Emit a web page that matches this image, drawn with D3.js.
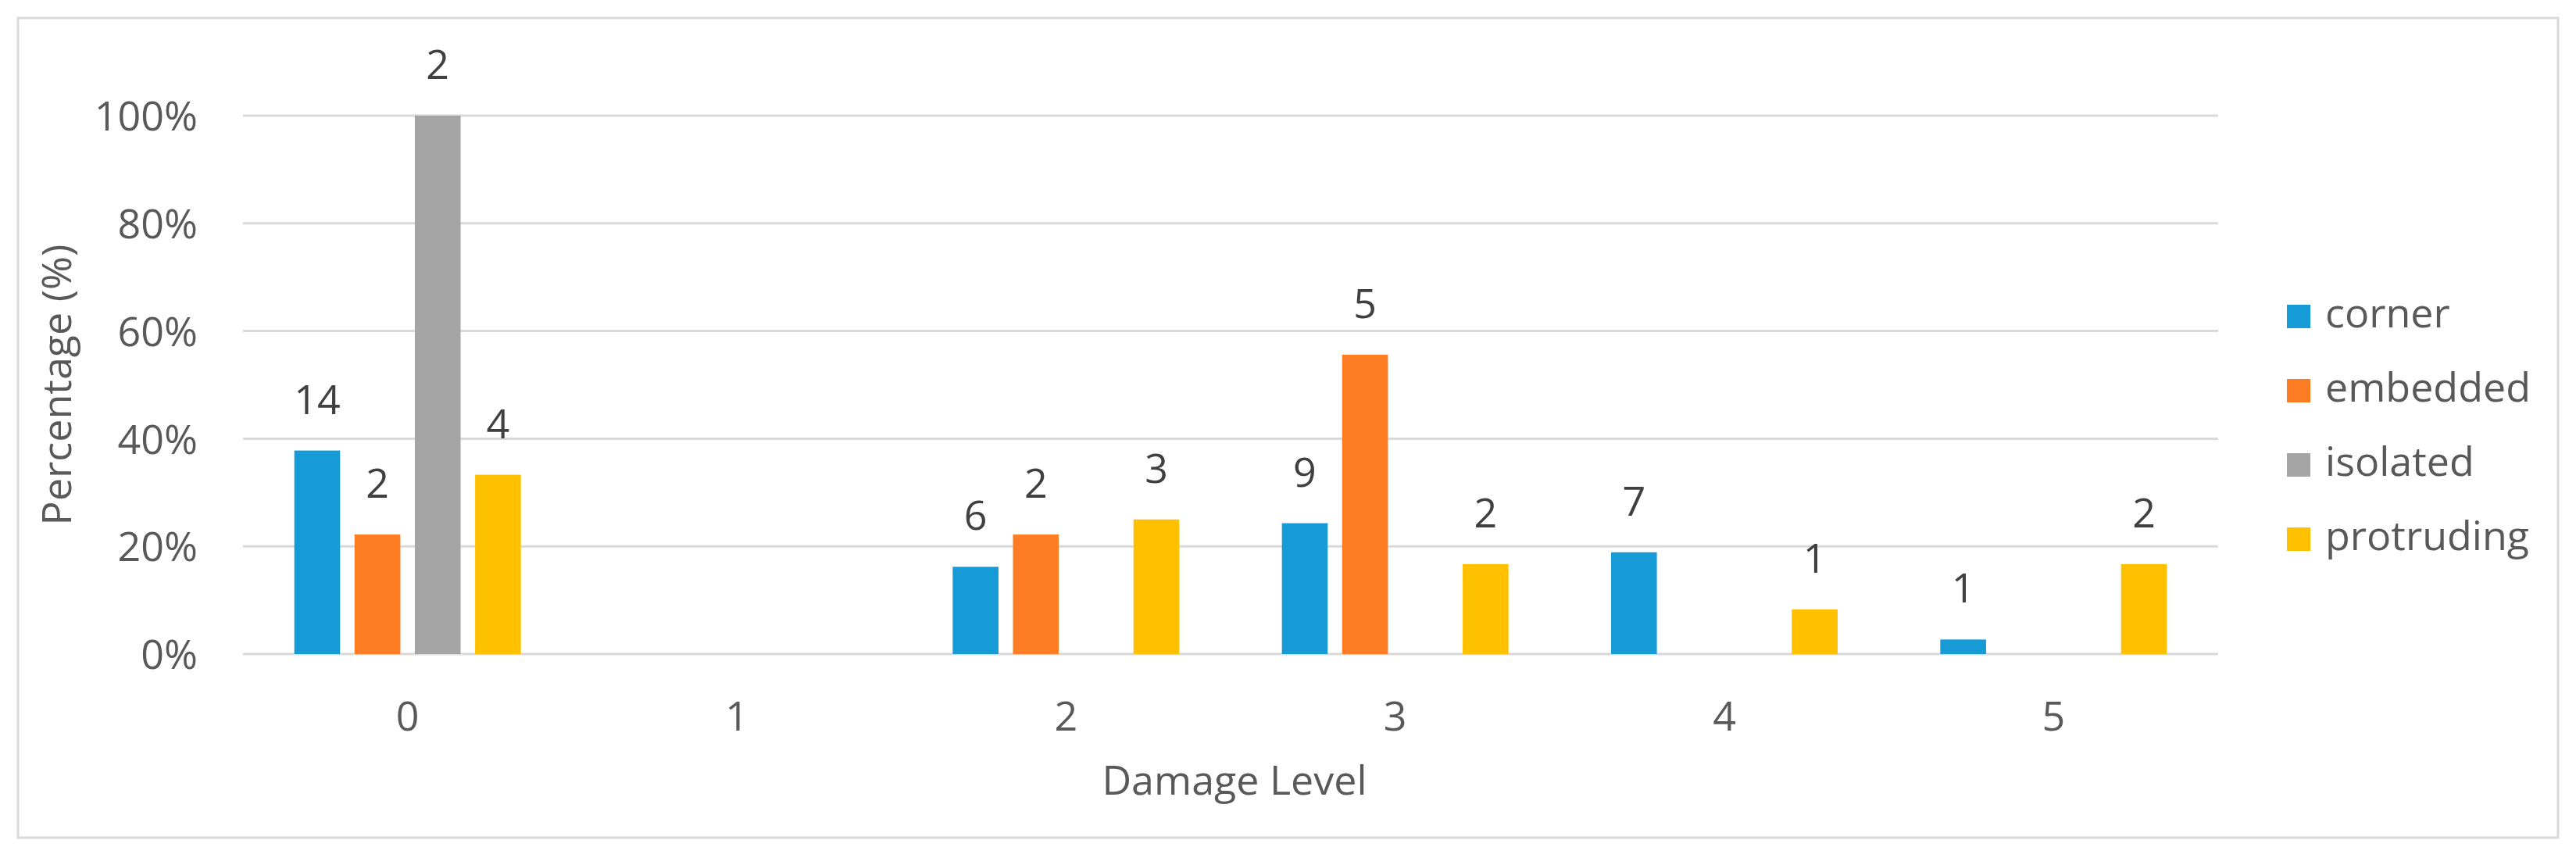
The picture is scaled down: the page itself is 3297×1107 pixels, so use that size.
<!DOCTYPE html>
<html>
<head>
<meta charset="utf-8">
<script src="https://cdn.jsdelivr.net/npm/d3@7"></script>
<style>
  html, body { margin: 0; padding: 0; background: #fff; }
  svg { display: block; font-family: "Open Sans", "Noto Sans", sans-serif; }
</style>
</head>
<body>
<svg id="chart" width="3297" height="1107"></svg>
<script>
// ---- data ----
const categories = ["0", "1", "2", "3", "4", "5"];
const seriesNames = ["corner", "embedded", "isolated", "protruding"];
const seriesColors = ["#179bd7", "#fe7c23", "#a5a5a5", "#ffc000"];
// bar heights in percent
const cornerPct     = [37.8, 0, 16.2, 24.3, 18.9, 2.7];
const embeddedPct   = [22.2, 0, 22.2, 55.6, 0, 0];
const isolatedPct   = [100, 0, 0, 0, 0, 0];
const protrudingPct = [33.3, 0, 25.0, 16.7, 8.3, 16.7];
// data labels (counts) shown above bars
const cornerCount     = [14, null, 6, 9, 7, 1];
const embeddedCount   = [2, null, 2, 5, null, null];
const isolatedCount   = [2, null, null, null, null, null];
const protrudingCount = [4, null, 3, 2, 1, 2];
const yTicks = [0, 20, 40, 60, 80, 100];
const xTitle = "Damage Level";
const yTitle = "Percentage (%)";

const pctBySeries = [cornerPct, embeddedPct, isolatedPct, protrudingPct];
const countBySeries = [cornerCount, embeddedCount, isolatedCount, protrudingCount];

const rows = [];
categories.forEach((c, ci) => {
  seriesNames.forEach((s, si) => {
    rows.push({ cat: c, series: s, pct: pctBySeries[si][ci], count: countBySeries[si][ci], color: seriesColors[si] });
  });
});

// ---- layout ----
const svg = d3.select("#chart");
const textColor = "#595959";
const gridColor = "#d9d9d9";
const fontSize = 52;
const plot = { left: 311, right: 2839, top: 148, bottom: 837 };

// outer frame
svg.append("rect")
  .attr("x", 23).attr("y", 23)
  .attr("width", 3274 - 23).attr("height", 1072 - 23)
  .attr("fill", "#fff").attr("stroke", gridColor).attr("stroke-width", 3);

const x0 = d3.scaleBand().domain(categories).range([plot.left, plot.right]).padding(0);
const groupPad = (x0.bandwidth() - 290) / 2;
const x1 = d3.scaleBand().domain(seriesNames)
  .range([groupPad, x0.bandwidth() - groupPad]).paddingInner(0.24).paddingOuter(0);
const y = d3.scaleLinear().domain([0, 100]).range([plot.bottom, plot.top]);

// gridlines
svg.append("g").selectAll("line").data(yTicks).join("line")
  .attr("x1", plot.left).attr("x2", plot.right)
  .attr("y1", d => y(d)).attr("y2", d => y(d))
  .attr("stroke", gridColor).attr("stroke-width", 3);

// y axis labels
const yAxis = svg.append("g").attr("transform", `translate(${plot.left},0)`)
  .call(d3.axisLeft(y).tickValues(yTicks).tickSize(0).tickPadding(58).tickFormat(d => d + "%"));
yAxis.select(".domain").remove();
yAxis.selectAll("text").attr("font-size", fontSize).attr("fill", textColor)
  .attr("font-family", "'Open Sans', sans-serif").attr("dy", "0.36em");

// x axis labels
const xAxis = svg.append("g").attr("transform", `translate(0,${plot.bottom})`)
  .call(d3.axisBottom(x0).tickSize(0).tickPadding(61));
xAxis.select(".domain").remove();
xAxis.selectAll("text").attr("font-size", fontSize).attr("fill", textColor)
  .attr("font-family", "'Open Sans', sans-serif");

// bars
const bars = svg.append("g");
bars.selectAll("rect").data(rows.filter(r => r.pct > 0)).join("rect")
  .attr("x", d => x0(d.cat) + x1(d.series))
  .attr("y", d => y(d.pct))
  .attr("width", x1.bandwidth())
  .attr("height", d => y(0) - y(d.pct))
  .attr("fill", d => d.color);

// data labels
svg.append("g").selectAll("text").data(rows.filter(r => r.count != null)).join("text")
  .attr("x", d => x0(d.cat) + x1(d.series) + x1.bandwidth() / 2)
  .attr("y", d => y(d.pct) - 47)
  .attr("text-anchor", "middle")
  .attr("font-size", fontSize).attr("fill", "#404040")
  .text(d => d.count);

// axis titles
svg.append("text")
  .attr("x", (plot.left + plot.right) / 2 + 5).attr("y", 1017)
  .attr("text-anchor", "middle").attr("font-size", fontSize).attr("fill", textColor)
  .text(xTitle);
svg.append("text")
  .attr("transform", `translate(91,${(plot.top + plot.bottom) / 2}) rotate(-90)`)
  .attr("text-anchor", "middle").attr("font-size", fontSize).attr("fill", textColor)
  .text(yTitle);

// legend
const legend = svg.append("g").selectAll("g").data(seriesNames).join("g")
  .attr("transform", (d, i) => `translate(2927,${405 + i * 95})`);
legend.append("rect").attr("x", 0).attr("y", -15).attr("width", 30).attr("height", 30)
  .attr("fill", (d, i) => seriesColors[i]);
legend.append("text").attr("x", 49).attr("y", 14)
  .attr("font-size", fontSize).attr("fill", textColor).text(d => d);
</script>
</body>
</html>
